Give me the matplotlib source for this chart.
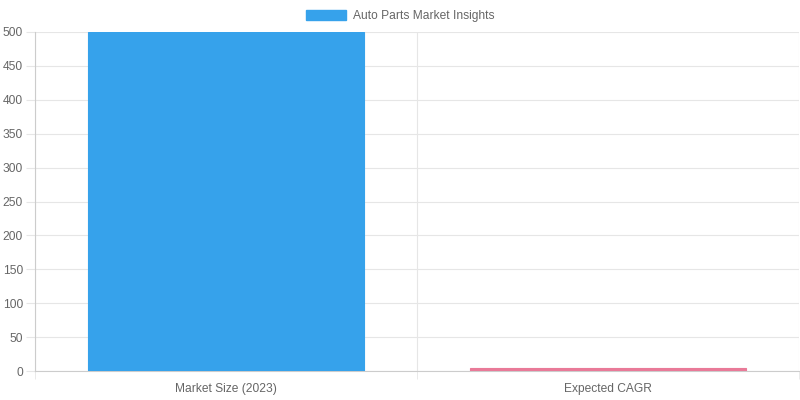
import matplotlib
matplotlib.use("Agg")
import matplotlib.pyplot as plt
import numpy as np
from matplotlib.patches import Patch

categories = ["Market Size (2023)", "Expected CAGR"]
values = [500, 4.5]
legend_label = "Auto Parts Market Insights"
yticks = list(range(0, 501, 50))

plt.rcParams['font.family'] = ['Liberation Sans', 'DejaVu Sans']

PX = 72 / 100  # points per pixel at dpi 100

fig = plt.figure(figsize=(8, 4), dpi=100)
ax = fig.add_axes([35/800, 1-371/400, (799-35)/800, (371-32)/400])

x = np.arange(len(categories))
face = ["#36A2EB", "#E97A98"]
edge = ["#36A2EB", "#E97A98"]
ax.bar(x, values, width=0.72, color=face, edgecolor=edge, linewidth=0.8, zorder=3)

ax.set_xlim(-0.5, len(categories) - 0.5)
ax.set_ylim(0, 500)
ax.set_yticks(yticks)
ax.set_yticklabels([str(v) for v in yticks])
ax.set_xticks(x)
ax.set_xticklabels(categories)
ax.set_xticks(np.arange(-0.5, len(categories), 1.0), minor=True)

ax.grid(axis='y', color='#e6e6e6', linewidth=0.8, zorder=0)
ax.grid(axis='x', which='minor', color='#e6e6e6', linewidth=0.8, zorder=0)
ax.tick_params(axis='y', length=9*PX, color='#e6e6e6', labelcolor='#666666',
               labelsize=12*PX, pad=3*PX)
ax.tick_params(axis='x', which='major', length=0, labelcolor='#666666',
               labelsize=12*PX, pad=12*PX)
ax.tick_params(axis='x', which='minor', length=8*PX, color='#e6e6e6')

for s in ['top', 'right']:
    ax.spines[s].set_visible(False)
ax.spines['left'].set_color('#cccccc')
ax.spines['bottom'].set_color('#cccccc')
ax.spines['left'].set_linewidth(0.8)
ax.spines['bottom'].set_linewidth(0.8)

handle = Patch(facecolor="#36A2EB", edgecolor="#36A2EB")
fig.legend([handle], [legend_label], loc='center', bbox_to_anchor=(0.5, 1-16/400),
           frameon=False, fontsize=12*PX, labelcolor='#666666',
           handlelength=40/(12), handleheight=11/12, handletextpad=7/12)

fig.savefig("out.png", dpi=100)
